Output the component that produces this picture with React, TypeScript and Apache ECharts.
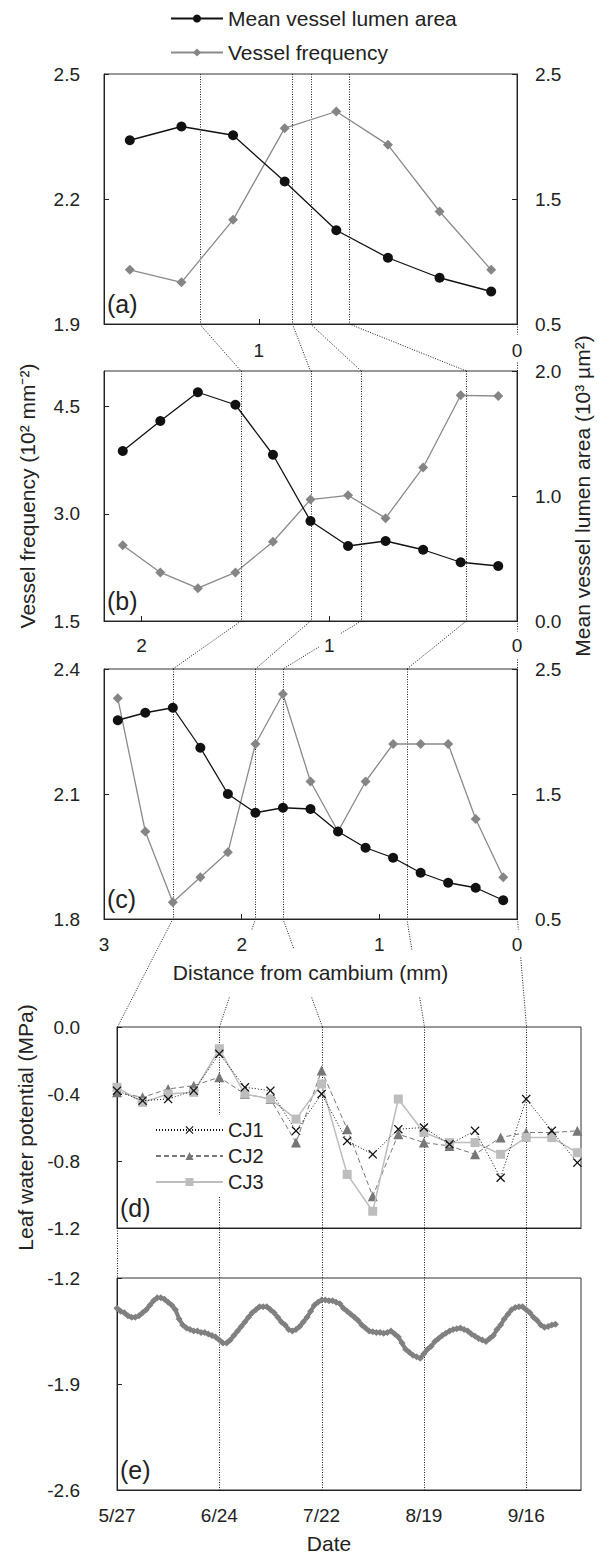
import React, { useEffect, useRef } from 'react';
import * as echarts from 'echarts';

// ---------- data ----------
const legendNames = ['Mean vessel lumen area', 'Vessel frequency'];

const aDist = [1.5, 1.3, 1.1, 0.9, 0.7, 0.5, 0.3, 0.1];
const aArea = [1.97, 2.08, 2.01, 1.64, 1.25, 1.03, 0.87, 0.76];
const aFreq = [2.03, 2.0, 2.15, 2.37, 2.41, 2.33, 2.17, 2.03];

const bDist = [2.1, 1.9, 1.7, 1.5, 1.3, 1.1, 0.9, 0.7, 0.5, 0.3, 0.1];
const bArea = [1.36, 1.6, 1.83, 1.73, 1.33, 0.8, 0.6, 0.64, 0.57, 0.47, 0.44];
const bFreq = [2.56, 2.18, 1.96, 2.18, 2.61, 3.2, 3.26, 2.94, 3.65, 4.66, 4.65];

const cDist = [2.9, 2.7, 2.5, 2.3, 2.1, 1.9, 1.7, 1.5, 1.3, 1.1, 0.9, 0.7, 0.5, 0.3, 0.1];
const cArea = [2.09, 2.15, 2.19, 1.87, 1.5, 1.35, 1.39, 1.38, 1.2, 1.07, 0.99, 0.87, 0.79, 0.75, 0.65];
const cFreq = [2.33, 2.01, 1.84, 1.9, 1.96, 2.22, 2.34, 2.13, 2.01, 2.13, 2.22, 2.22, 2.22, 2.04, 1.9];

// distances (mm) that correspond to the dates 5/27, 6/24, 7/22, 8/19, 9/16
const aMarks = [1.23, 0.87, 0.8, 0.65, 0];
const bMarks = [1.47, 1.1, 0.83, 0.27, 0];
const cMarks = [2.5, 1.9, 1.7, 0.8, 0];

const aTicks = [0, 1];
const bTicks = [0, 1, 2];
const cTicks = [0, 1, 2, 3];

const dateTickDays = [0, 28, 56, 84, 112];
const dateTickLabels = ['5/27', '6/24', '7/22', '8/19', '9/16'];

const cjDays = [0, 7, 14, 21, 28, 35, 42, 49, 56, 63, 70, 77, 84, 91, 98, 105, 112, 119, 126];
const cj1 = [-0.38, -0.44, -0.43, -0.38, -0.16, -0.36, -0.38, -0.62, -0.4, -0.68, -0.76, -0.61, -0.6, -0.7, -0.62, -0.9, -0.43, -0.62, -0.81];
const cj2 = [-0.39, -0.42, -0.37, -0.35, -0.3, -0.4, -0.43, -0.69, -0.26, -0.61, -1.01, -0.64, -0.69, -0.71, -0.76, -0.66, -0.63, -0.63, -0.62];
const cj3 = [-0.36, -0.45, -0.4, -0.39, -0.13, -0.4, -0.43, -0.55, -0.34, -0.88, -1.1, -0.43, -0.63, -0.69, -0.69, -0.76, -0.66, -0.66, -0.75];

const eLWP = [
  -1.40, -1.42, -1.43, -1.45, -1.46, -1.46, -1.45, -1.43, -1.41, -1.38,
  -1.35, -1.33, -1.33, -1.34, -1.36, -1.38, -1.41, -1.47, -1.51, -1.53,
  -1.54, -1.55, -1.55, -1.56, -1.56, -1.57, -1.58, -1.59, -1.61, -1.63,
  -1.63, -1.61, -1.58, -1.55, -1.52, -1.49, -1.46, -1.43, -1.41, -1.39,
  -1.39, -1.39, -1.41, -1.43, -1.46, -1.49, -1.51, -1.54, -1.55, -1.54,
  -1.52, -1.49, -1.46, -1.42, -1.38, -1.36, -1.345, -1.345, -1.35, -1.35,
  -1.36, -1.37, -1.40, -1.42, -1.44, -1.46, -1.48, -1.51, -1.53, -1.55,
  -1.555, -1.56, -1.56, -1.565, -1.56, -1.55, -1.57, -1.59, -1.63, -1.67,
  -1.69, -1.71, -1.72, -1.73, -1.70, -1.67, -1.65, -1.62, -1.60, -1.58,
  -1.565, -1.55, -1.54, -1.535, -1.53, -1.54, -1.55, -1.57, -1.585, -1.60,
  -1.61, -1.62, -1.60, -1.58, -1.54, -1.51, -1.47, -1.44, -1.41, -1.395,
  -1.39, -1.39, -1.41, -1.43, -1.46, -1.48, -1.51, -1.525, -1.52, -1.51,
  -1.505,
];

// ---------- layout ----------
const FONT = 'Liberation Sans, Arial, Helvetica, sans-serif';
const INK = '#222';
const G = [
  { left: 104, top: 74, width: 413, height: 250 },
  { left: 104, top: 371, width: 413, height: 250 },
  { left: 104, top: 669, width: 413, height: 250 },
  { left: 117, top: 1027, width: 464, height: 201 },
  { left: 117, top: 1278, width: 464, height: 212 },
];
const bottomOf = (i: number) => G[i].top + G[i].height;

function yAx(grid: number, pos: 'left' | 'right', min: number, max: number, vals: number[], margin: number, extra: any = {}) {
  return {
    type: 'value', gridIndex: grid, position: pos, min, max,
    axisLine: { show: true, onZero: false, lineStyle: { color: INK, width: 1 } },
    axisTick: { show: true, inside: true, length: 5, customValues: vals, lineStyle: { color: INK } },
    axisLabel: { customValues: vals, formatter: (v: number) => v.toFixed(1), fontSize: 19, color: INK, margin, fontFamily: FONT },
    splitLine: { show: false },
    ...extra,
  };
}

function xDist(grid: number, max: number, vals: number[], margin: number, extra: any = {}) {
  return {
    type: 'value', gridIndex: grid, inverse: true, min: 0, max,
    axisLine: { show: true, onZero: false, lineStyle: { color: INK, width: 1 } },
    axisTick: { show: true, inside: true, length: 5, customValues: vals, lineStyle: { color: INK } },
    axisLabel: { customValues: vals, formatter: (v: number) => String(v), fontSize: 19, color: INK, margin, fontFamily: FONT },
    splitLine: { show: false },
    ...extra,
  };
}

function pairs(xs: number[], ys: number[]) {
  return xs.map((x, i) => [x, ys[i]]);
}

const areaStyle = (xi: number, yi: number, xs: number[], ys: number[]) => ({
  type: 'line', name: legendNames[0], xAxisIndex: xi, yAxisIndex: yi, data: pairs(xs, ys),
  symbol: 'circle', symbolSize: 10, itemStyle: { color: '#111' }, lineStyle: { color: '#111', width: 1.3 }, z: 4,
});
const freqStyle = (xi: number, yi: number, xs: number[], ys: number[]) => ({
  type: 'line', name: legendNames[1], xAxisIndex: xi, yAxisIndex: yi, data: pairs(xs, ys),
  symbol: 'diamond', symbolSize: 10, itemStyle: { color: '#858585' }, lineStyle: { color: '#8a8a8a', width: 1.3 }, z: 3,
});

const CROSS = 'path://M1,0 L5,4 L9,0 L10,1 L6,5 L10,9 L9,10 L5,6 L1,10 L0,9 L4,5 L0,1 Z';

function buildOption(): any {
  return {
    animation: false,
    textStyle: { fontFamily: FONT },
    grid: G.map((g) => ({ ...g, containLabel: false, outerBoundsMode: 'none', show: true, borderColor: '#333', borderWidth: 1, backgroundColor: 'transparent' })),
    legend: [
      {
        data: legendNames, orient: 'vertical', left: 165, top: 3, itemWidth: 52, itemHeight: 10, itemGap: 13,
        textStyle: { fontSize: 21, color: INK, lineHeight: 21, fontFamily: FONT }, selectedMode: false,
      },
      {
        data: ['CJ1', 'CJ2', 'CJ3'], orient: 'vertical', left: 150, top: 1115, itemWidth: 67, itemHeight: 10, itemGap: 6,
        textStyle: { fontSize: 20, color: INK, lineHeight: 20, fontFamily: FONT }, backgroundColor: '#fff', padding: 5, selectedMode: false, z: 10,
      },
    ],
    xAxis: [
      xDist(0, 1.6, aTicks, 17),
      xDist(1, 2.2, bTicks, 15),
      xDist(2, 3, cTicks, 16, {
        name: 'Distance from cambium (mm)', nameLocation: 'middle', nameGap: 43,
        nameTextStyle: { fontSize: 21, color: INK, fontFamily: FONT },
      }),
      {
        type: 'value', gridIndex: 3, min: 0, max: 127,
        axisLine: { show: true, onZero: false, lineStyle: { color: INK } },
        axisTick: { show: false }, axisLabel: { show: false }, splitLine: { show: false },
      },
      {
        type: 'value', gridIndex: 4, min: 0, max: 127,
        axisLine: { show: true, onZero: false, lineStyle: { color: INK } },
        axisTick: { show: false },
        axisLabel: {
          customValues: dateTickDays, fontSize: 19, color: INK, margin: 16, fontFamily: FONT,
          formatter: (v: number) => dateTickLabels[dateTickDays.indexOf(v)] ?? '',
        },
        splitLine: { show: false },
        name: 'Date', nameLocation: 'middle', nameGap: 43,
        nameTextStyle: { fontSize: 21, color: INK, fontFamily: FONT, padding: [0, 40, 0, 0] },
      },
    ],
    yAxis: [
      yAx(0, 'left', 1.9, 2.5, [1.9, 2.2, 2.5], 24),
      yAx(0, 'right', 0.5, 2.5, [0.5, 1.5, 2.5], 18),
      yAx(1, 'left', 1.5, 5.0, [1.5, 3.0, 4.5], 24, {
        name: 'Vessel frequency (10² mm⁻²)', nameLocation: 'middle', nameGap: 66,
        nameTextStyle: { fontSize: 21, color: INK, fontFamily: FONT },
      }),
      yAx(1, 'right', 0, 2.0, [0, 1.0, 2.0], 18, {
        name: 'Mean vessel lumen area (10³ µm²)', nameLocation: 'middle', nameGap: 55,
        nameTextStyle: { fontSize: 21, color: INK, fontFamily: FONT },
      }),
      yAx(2, 'left', 1.8, 2.4, [1.8, 2.1, 2.4], 24),
      yAx(2, 'right', 0.5, 2.5, [0.5, 1.5, 2.5], 18),
      yAx(3, 'left', -1.2, 0, [-1.2, -0.8, -0.4, 0], 37, {
        name: 'Leaf water potential (MPa)', nameLocation: 'middle', nameGap: 79,
        nameTextStyle: { fontSize: 21, color: INK, fontFamily: FONT },
      }),
      yAx(4, 'left', -2.6, -1.2, [-2.6, -1.9, -1.2], 37),
    ],
    series: [
      freqStyle(0, 0, aDist, aFreq),
      areaStyle(0, 1, aDist, aArea),
      freqStyle(1, 2, bDist, bFreq),
      areaStyle(1, 3, bDist, bArea),
      freqStyle(2, 4, cDist, cFreq),
      areaStyle(2, 5, cDist, cArea),
      {
        type: 'line', name: 'CJ1', xAxisIndex: 3, yAxisIndex: 6, data: pairs(cjDays, cj1),
        symbol: CROSS, symbolSize: 9, itemStyle: { color: '#111' },
        lineStyle: { color: '#111', width: 1, type: [1, 2] }, z: 5,
      },
      {
        type: 'line', name: 'CJ2', xAxisIndex: 3, yAxisIndex: 6, data: pairs(cjDays, cj2),
        symbol: 'triangle', symbolSize: 10, itemStyle: { color: '#777' },
        lineStyle: { color: '#777', width: 1, type: [5, 3] }, z: 3,
      },
      {
        type: 'line', name: 'CJ3', xAxisIndex: 3, yAxisIndex: 6, data: pairs(cjDays, cj3),
        symbol: 'rect', symbolSize: 9, itemStyle: { color: '#bdbdbd' },
        lineStyle: { color: '#bdbdbd', width: 1.5 }, z: 4,
      },
      {
        type: 'line', name: 'LWP', xAxisIndex: 4, yAxisIndex: 7, data: eLWP.map((v, i) => [i, v]),
        symbol: 'diamond', symbolSize: 7, itemStyle: { color: '#808080' },
        lineStyle: { color: '#808080', width: 4 }, z: 3,
      },
    ],
  };
}

type Box = { x0: number; x1: number; y0: number; y1: number };

function brokenLine(x1: number, y1: number, x2: number, y2: number, boxes: Box[]) {
  const out: number[][][] = [];
  const n = Math.max(2, Math.ceil(Math.abs(y2 - y1) * 2));
  let start: number[] | null = null;
  let last: number[] | null = null;
  for (let i = 0; i <= n; i++) {
    const t = i / n;
    const x = x1 + (x2 - x1) * t;
    const y = y1 + (y2 - y1) * t;
    const inside = boxes.some((b) => x >= b.x0 && x <= b.x1 && y >= b.y0 && y <= b.y1);
    if (!inside) {
      if (!start) start = [x, y];
      last = [x, y];
    } else if (start && last) {
      out.push([start, last]);
      start = null;
    }
  }
  if (start && last) out.push([start, last]);
  return out;
}

const dotStyle = { stroke: '#1a1a1a', lineWidth: 1, lineDash: [1, 1.5] };

function buildGraphics(chart: any) {
  const px = (axis: number, v: number) => chart.convertToPixel({ xAxisIndex: axis }, v) as number;
  const crisp = (x: number) => Math.round(x) + 0.5;
  const els: any[] = [];
  const seg = (x1: number, y1: number, x2: number, y2: number) =>
    els.push({ type: 'line', silent: true, z: 0, shape: { x1, y1, x2, y2 }, style: dotStyle });

  const labelBoxes = (axis: number, grid: number, vals: number[]): Box[] =>
    vals.map((v) => {
      const x = px(axis, v);
      return { x0: x - 10, x1: x + 10, y0: bottomOf(grid) + 11, y1: bottomOf(grid) + 38 };
    });

  const marks = [aMarks, bMarks, cMarks];
  // verticals inside the distance panels
  marks.forEach((m, gi) => {
    m.forEach((v) => {
      if (v === 0) return;
      const x = crisp(px(gi, v));
      seg(x, G[gi].top, x, bottomOf(gi));
    });
  });

  // connectors between panels a->b, b->c
  const tickSets = [aTicks, bTicks, cTicks];
  for (let gi = 0; gi < 2; gi++) {
    const boxes = labelBoxes(gi, gi, tickSets[gi]);
    marks[gi].forEach((v, k) => {
      let xa = px(gi, v);
      let xb = px(gi + 1, marks[gi + 1][k]);
      if (v === 0) { xa = crisp(xa); xb = crisp(xb); }
      brokenLine(xa, bottomOf(gi), xb, G[gi + 1].top, boxes).forEach(([p, q]) => seg(p[0], p[1], q[0], q[1]));
    });
  }

  // connectors c -> d
  {
    const boxes = labelBoxes(2, 2, cTicks);
    const cx = G[2].left + G[2].width / 2;
    boxes.push({ x0: cx - 150, x1: cx + 150, y0: bottomOf(2) + 31, y1: bottomOf(2) + 78 });
    cMarks.forEach((v, k) => {
      let xa = px(2, v);
      let xb = crisp(px(3, dateTickDays[k]));
      if (v === 0) xa = crisp(xa);
      brokenLine(xa, bottomOf(2), xb, G[3].top, boxes).forEach(([p, q]) => seg(p[0], p[1], q[0], q[1]));
    });
  }

  // date verticals through d and e
  dateTickDays.forEach((d) => {
    const x = crisp(px(3, d));
    if (d === 0) seg(x, bottomOf(3), x, G[4].top);
    else seg(x, G[3].top, x, bottomOf(4));
  });

  // panel letters
  ['(a)', '(b)', '(c)', '(d)', '(e)'].forEach((t, i) => {
    els.push({
      type: 'text', silent: true, z: 20, x: G[i].left + 3, y: bottomOf(i) - 8,
      style: { text: t, fontSize: 25, fontFamily: FONT, fill: INK, align: 'left', verticalAlign: 'bottom' },
    });
  });
  return els;
}

export default function App() {
  const ref = useRef<HTMLDivElement>(null);
  useEffect(() => {
    if (!ref.current) return;
    const chart = echarts.init(ref.current, null, { renderer: 'svg' });
    chart.setOption(buildOption());
    chart.setOption({ graphic: buildGraphics(chart) });
    return () => chart.dispose();
  }, []);
  return (
    <div
      ref={ref}
      style={{ position: 'fixed', left: 0, top: 0, width: 600, height: 1554, background: '#fff' }}
    />
  );
}
